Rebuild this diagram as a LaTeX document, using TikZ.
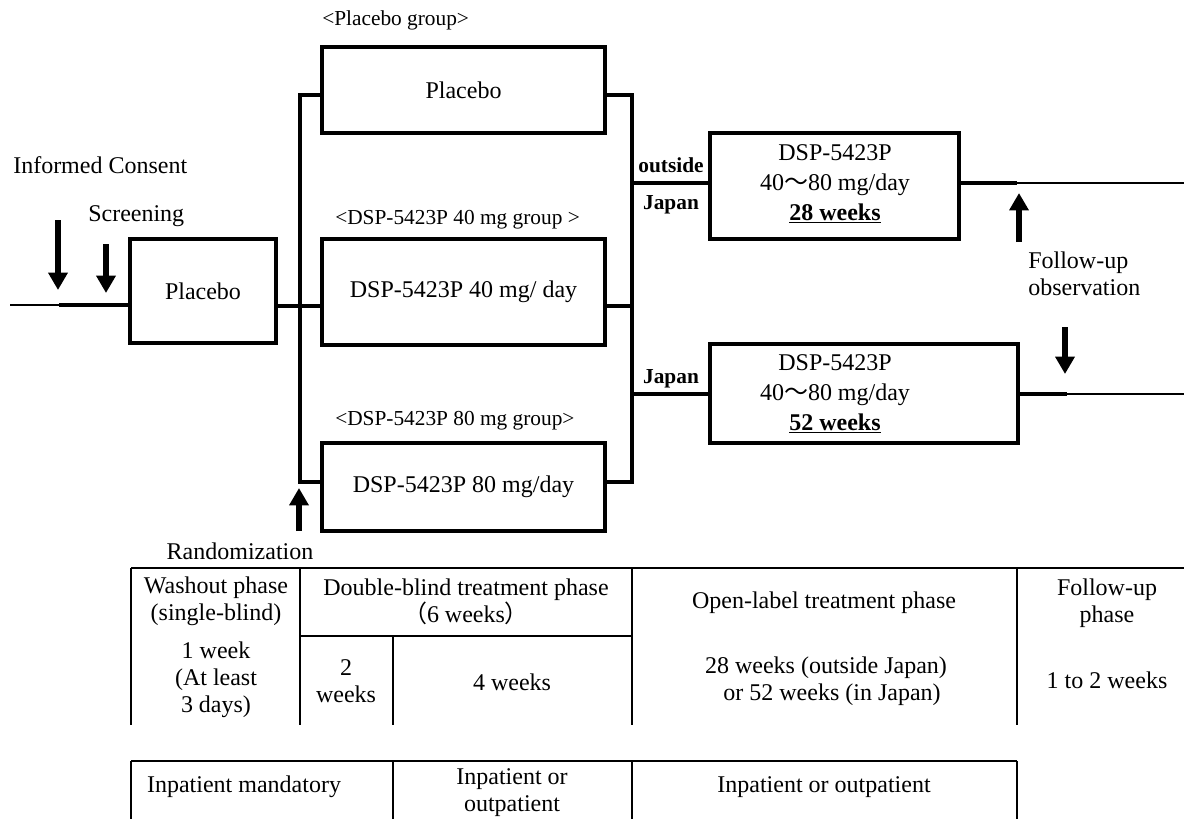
\documentclass[tikz,border=0pt]{standalone}
\usepackage{fontspec}
\setmainfont{Liberation Serif}
\newfontfamily\cjk{Noto Sans CJK JP}
\usetikzlibrary{arrows.meta,calc}
\begin{document}
\begin{tikzpicture}[x=0.75pt,y=-0.75pt,
  box/.style={draw,line width=2.5pt,inner sep=0pt,font=\fontsize{18pt}{22.5pt}\selectfont},
  conn/.style={line width=2.5pt},
  thinline/.style={line width=1pt},
  tbl/.style={line width=1.5pt},
  lbl/.style={inner sep=0pt,font=\fontsize{18pt}{20.25pt}\selectfont},
  small/.style={inner sep=0pt,font=\fontsize{16pt}{19pt}\selectfont},
  smallbold/.style={inner sep=0pt,font=\fontsize{16pt}{19pt}\selectfont\bfseries},
  bigarrow/.style={line width=5pt,-{Triangle[width=14pt,length=13pt]}},
  cell/.style={inner sep=0pt,align=center,font=\fontsize{18pt}{20.25pt}\selectfont}
]
\useasboundingbox (0,0) rectangle (1184,819);

% boxes
\node[box,minimum width=109.5pt,minimum height=78pt] (wash) at (203,291) {Placebo};
\node[box,minimum width=212.25pt,minimum height=64.5pt] (plac) at (463.5,90) {Placebo};
\node[box,minimum width=212.25pt,minimum height=79.5pt] (d40) at (463.5,292) {DSP-5423P 40 mg/ day};
\node[box,minimum width=212.25pt,minimum height=66pt] (d80) at (463.5,487) {DSP-5423P 80 mg/day};
\node[box,minimum width=186.75pt,minimum height=79.5pt] (ol1) at (834.5,186) {};
\node[box,minimum width=231pt,minimum height=74.25pt] (ol2) at (864,393.5) {};
\node[cell,font=\fontsize{18pt}{22.5pt}\selectfont] (ol1t) at (835,184) {DSP-5423P\\40{\cjk 〜}80 mg/day\\\underline{\textbf{28 weeks}}};
\node[cell,font=\fontsize{18pt}{22.5pt}\selectfont] (ol2t) at (835,394) {DSP-5423P\\40{\cjk 〜}80 mg/day\\\underline{\textbf{52 weeks}}};

% coordinates
\coordinate (L0) at (10,305);
\coordinate (L1) at (59,305);
\coordinate (y306) at (300,306);
\coordinate (jt) at (300,95);
\coordinate (jb) at (300,482);
\coordinate (kt) at (632,95);
\coordinate (kb) at (632,482);
\coordinate (k306) at (632,306);
\coordinate (k1) at (632,183);
\coordinate (k2) at (632,394);
\coordinate (r1) at (1017,183);
\coordinate (r1e) at (1184,183);
\coordinate (r2) at (1067,394);
\coordinate (r2e) at (1184,394);

% connectors
\draw[line width=1.5pt] (L0) -- (L1);
\draw[conn] (L1) -- (L1 -| wash.west);
\draw[conn] (wash.east |- y306) -- (d40.west |- y306);
\draw[conn] (plac.west |- jt) -- (jt) -- (jb) -- (d80.west |- jb);
\draw[conn] (plac.east |- kt) -- (kt) -- (kb) -- (d80.east |- kb);
\draw[conn] (d40.east |- k306) -- (k306);
\draw[conn] (k1) -- (ol1.west |- k1);
\draw[conn] (k2) -- (ol2.west |- k2);
\draw[conn] (ol1.east |- r1) -- (r1);
\draw[thinline] (r1) -- (r1e);
\draw[conn] (ol2.east |- r2) -- (r2);
\draw[thinline] (r2) -- (r2e);

% arrows
\coordinate (a1s) at (58,220); \coordinate (a1e) at (58,290);
\coordinate (a2s) at (106,244); \coordinate (a2e) at (106,293);
\coordinate (a3s) at (299,531); \coordinate (a3e) at (299,488);
\coordinate (a4s) at (1019,242); \coordinate (a4e) at (1019,193);
\coordinate (a5s) at (1065,327); \coordinate (a5e) at (1065,374);
\draw[bigarrow] (a1s) -- (a1e);
\draw[bigarrow] (a2s) -- (a2e);
\draw[bigarrow] (a3s) -- (a3e);
\draw[bigarrow] (a4s) -- (a4e);
\draw[bigarrow] (a5s) -- (a5e);

% labels
\node[small,anchor=base west] (pg) at (322,25) {<Placebo group>};
\node[small,anchor=base west] (g40) at (335,224) {<DSP-5423P 40 mg group >};
\node[small,anchor=base west] (g80) at (335,425) {<DSP-5423P 80 mg group>};
\node[lbl,anchor=base west] (ic) at (13,173) {Informed Consent};
\node[lbl,anchor=base west] (scr) at (88,221) {Screening};
\node[lbl,anchor=base] (rand) at (240,559) {Randomization};
\node[smallbold,anchor=base] (out) at (671,172) {outside};
\node[smallbold,anchor=base] (jp1) at (671,209) {Japan};
\node[smallbold,anchor=base] (jp2) at (671,383) {Japan};
\node[lbl,anchor=base west,align=left] (fu) at (1028,295) {Follow-up\\observation};

% upper table
\draw[tbl] (131,568) -- (1184,568);
\draw[tbl] (131,568) -- (131,725);
\draw[tbl] (300,568) -- (300,725);
\draw[tbl] (632,568) -- (632,725);
\draw[tbl] (1017,568) -- (1017,725);
\draw[tbl] (300,636) -- (632,636);
\draw[tbl] (393,636) -- (393,725);
\node[cell] (c11) at (216,601.5) {Washout phase\\(single-blind)};
\node[cell] (c12) at (466,601.5) {Double-blind treatment phase\\{\cjk （}6 weeks{\cjk ）}};
\node[cell] (c13) at (824,603) {Open-label treatment phase};
\node[cell] (c14) at (1107,603.5) {Follow-up\\phase};
\node[cell] (c21) at (216,680) {1 week\\(At least\\3 days)};
\node[cell] (c22) at (346,681) {2\\weeks};
\node[cell] (c23) at (512,682) {4 weeks};
\node[cell] (c24) at (826,681.5) {28 weeks (outside Japan)\\\ \ or 52 weeks (in Japan)};
\node[cell] (c25) at (1107,680) {1 to 2 weeks};

% lower table
\draw[tbl] (131,761) -- (1017,761);
\draw[tbl] (131,761) -- (131,819);
\draw[tbl] (393,761) -- (393,819);
\draw[tbl] (632,761) -- (632,819);
\draw[tbl] (1017,761) -- (1017,819);
\node[cell] (b1) at (244,787) {Inpatient mandatory};
\node[cell] (b2) at (512,793) {Inpatient or\\outpatient};
\node[cell] (b3) at (824,787) {Inpatient or outpatient};
\end{tikzpicture}
\end{document}
